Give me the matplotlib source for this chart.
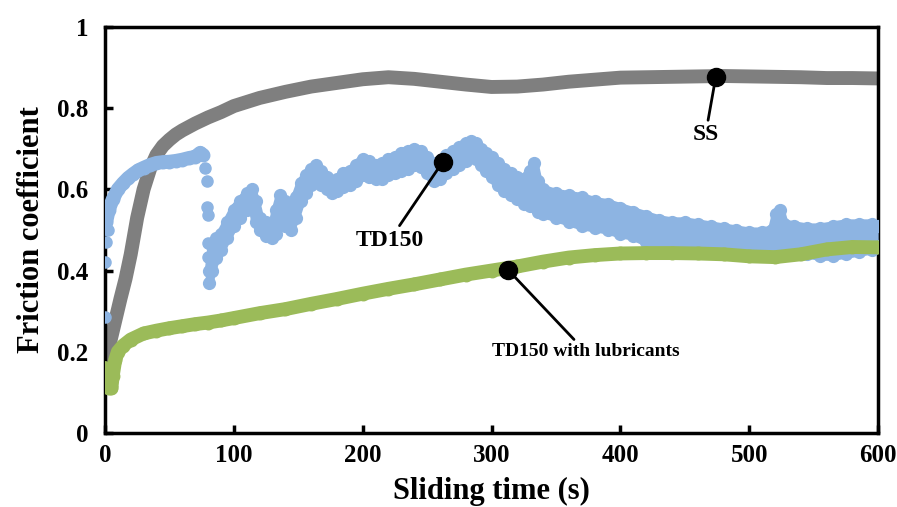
import matplotlib
matplotlib.use("Agg")
import matplotlib.pyplot as plt

plt.rcParams['font.family'] = ['Liberation Serif', 'DejaVu Serif']
plt.rcParams['font.weight'] = 'bold'

# SS (grey)
gray_t = [0, 3, 6, 9, 12, 16, 20, 25, 30, 35, 40, 45, 50, 55, 60, 70, 80, 90, 100, 120,
          140, 160, 180, 200, 220, 240, 260, 280, 300, 320, 340, 360, 380, 400, 420,
          440, 460, 480, 500, 520, 540, 560, 580, 600]
gray_v = [0.17, 0.21, 0.25, 0.29, 0.33, 0.38, 0.44, 0.53, 0.60, 0.65, 0.685, 0.707,
          0.722, 0.735, 0.745, 0.762, 0.777, 0.79, 0.805, 0.825, 0.84, 0.853, 0.862,
          0.871, 0.876, 0.872, 0.865, 0.858, 0.852, 0.853, 0.858, 0.865, 0.87, 0.875,
          0.876, 0.877, 0.878, 0.879, 0.878, 0.877, 0.876, 0.874, 0.874, 0.873]

# TD150 (blue) - first part before the drop
blue1_t = [1, 3, 6, 10, 14, 18, 22, 26, 30, 35, 40, 45, 50, 55, 60, 65, 70, 74, 76]
blue1_v = [0.52, 0.55, 0.575, 0.60, 0.615, 0.628, 0.638, 0.647, 0.653, 0.66, 0.665,
           0.667, 0.668, 0.67, 0.673, 0.677, 0.68, 0.69, 0.685]
# isolated points at start and during the drop
blue_dot_t = [0, 0, 1, 2, 78, 79, 79, 80, 80, 80]
blue_dot_v = [0.286, 0.42, 0.47, 0.50, 0.653, 0.62, 0.557, 0.537, 0.468, 0.434]
# after the drop: upper / lower edge of the noisy band
blue2_t = [81, 83, 86, 90, 95, 100, 105, 110, 114, 117, 120, 125, 130, 133, 136, 140,
           144, 148, 152, 156, 160, 164, 168, 172, 176, 180, 185, 190, 195, 200, 205,
           210, 215, 220, 225, 230, 235, 240, 245, 250, 255, 260, 265, 270, 275, 280,
           284, 288, 292, 296, 300, 305, 310, 315, 320, 325, 330, 333, 336, 340, 350,
           360, 370, 380, 390, 400, 410, 420, 430, 440, 450, 460, 470, 480, 490, 500,
           510, 518, 521, 524, 527, 535, 545, 555, 565, 575, 585, 595, 600]
blue2_hi = [0.40, 0.46, 0.48, 0.49, 0.52, 0.55, 0.57, 0.59, 0.60, 0.57, 0.53, 0.52,
            0.51, 0.55, 0.585, 0.57, 0.54, 0.58, 0.615, 0.635, 0.65, 0.66, 0.645, 0.63,
            0.62, 0.625, 0.64, 0.645, 0.66, 0.675, 0.67, 0.66, 0.665, 0.675, 0.68, 0.69,
            0.695, 0.70, 0.695, 0.68, 0.665, 0.67, 0.685, 0.695, 0.705, 0.715, 0.72,
            0.715, 0.70, 0.69, 0.68, 0.665, 0.65, 0.64, 0.63, 0.625, 0.645, 0.665, 0.62,
            0.60, 0.59, 0.585, 0.58, 0.57, 0.565, 0.555, 0.545, 0.535, 0.525, 0.52, 0.52,
            0.515, 0.51, 0.505, 0.50, 0.495, 0.495, 0.50, 0.54, 0.55, 0.515, 0.51, 0.505,
            0.505, 0.51, 0.515, 0.515, 0.515, 0.51]
blue2_lo = [0.37, 0.40, 0.43, 0.45, 0.48, 0.51, 0.53, 0.55, 0.57, 0.52, 0.50, 0.485,
            0.48, 0.49, 0.52, 0.51, 0.50, 0.53, 0.57, 0.59, 0.61, 0.63, 0.61, 0.60,
            0.59, 0.595, 0.605, 0.61, 0.62, 0.635, 0.63, 0.625, 0.625, 0.635, 0.64,
            0.645, 0.65, 0.66, 0.655, 0.64, 0.62, 0.625, 0.64, 0.65, 0.66, 0.67, 0.68,
            0.675, 0.66, 0.645, 0.63, 0.61, 0.595, 0.585, 0.575, 0.565, 0.56, 0.56,
            0.545, 0.54, 0.53, 0.52, 0.51, 0.505, 0.50, 0.49, 0.485, 0.47, 0.46, 0.455,
            0.455, 0.455, 0.45, 0.445, 0.44, 0.44, 0.44, 0.44, 0.44, 0.445, 0.445, 0.44,
            0.44, 0.435, 0.435, 0.44, 0.445, 0.45, 0.46]

# TD150 with lubricants (green)
green_t = [0, 1, 2, 3, 4, 5, 6, 8, 10, 14, 20, 30, 40, 50, 60, 70, 80, 90, 100, 120,
           140, 160, 180, 200, 220, 240, 260, 280, 300, 320, 340, 360, 380, 400, 420,
           440, 460, 480, 500, 520, 540, 560, 580, 600]
green_v = [0.16, 0.12, 0.15, 0.11, 0.13, 0.11, 0.14, 0.18, 0.20, 0.215, 0.23, 0.245,
           0.252, 0.258, 0.263, 0.268, 0.272, 0.277, 0.283, 0.295, 0.305, 0.318, 0.33,
           0.343, 0.355, 0.366, 0.378, 0.39, 0.40, 0.41, 0.422, 0.432, 0.438, 0.442,
           0.443, 0.443, 0.442, 0.44, 0.435, 0.433, 0.44, 0.452, 0.458, 0.457]

labels = ['SS', 'TD150', 'TD150 with lubricants']
label_dot = [(474, 0.877), (262, 0.667), (313, 0.401)]
label_txt = [(466, 0.734), (221, 0.475), (373, 0.20)]
label_size = [17, 17, 14]

c_gray = '#7f7f7f'
c_blue = '#8db4e2'
c_green = '#9bbb59'

fig = plt.figure(figsize=(8.97, 5.07), dpi=100)
ax = fig.add_axes([0.117, 0.146, 0.862, 0.801])

ax.plot(gray_t, gray_v, '-', color=c_gray, lw=10, solid_capstyle='round',
        solid_joinstyle='round', zorder=2)

ax.plot(blue1_t, blue1_v, '-o', color=c_blue, lw=10, ms=9, solid_capstyle='round',
        solid_joinstyle='round', zorder=3)
ax.plot(blue_dot_t, blue_dot_v, 'o', color=c_blue, ms=8, zorder=3)
ax.fill_between(blue2_t, blue2_lo, blue2_hi, color=c_blue, lw=0, zorder=3)
for edge in (blue2_hi, blue2_lo):
    ax.plot(blue2_t, edge, '-o', color=c_blue, lw=6.5, ms=8.5, solid_joinstyle='round',
            solid_capstyle='round', zorder=3)

ax.plot(green_t, green_v, '-o', color=c_green, lw=10, ms=9, solid_capstyle='round',
        solid_joinstyle='round', zorder=4)

for name, dot, txt, fs in zip(labels, label_dot, label_txt, label_size):
    ax.annotate(name, xy=dot, xytext=txt, ha='center', va='center', fontsize=fs,
                fontweight='bold',
                arrowprops=dict(arrowstyle='-', color='black', lw=2, shrinkA=1, shrinkB=0),
                zorder=6)
    ax.plot(*dot, 'o', color='black', ms=13, zorder=7)

ax.set_xlim(0, 600)
ax.set_ylim(0, 1)
ax.set_xticks(range(0, 601, 100))
ax.set_yticks([0, 0.2, 0.4, 0.6, 0.8, 1])
ax.set_yticklabels(['0', '0.2', '0.4', '0.6', '0.8', '1'])
ax.tick_params(direction='in', length=6, width=2.5, labelsize=18)
ax.tick_params(axis='x', pad=8)
ax.tick_params(axis='y', pad=12)
for sp in ax.spines.values():
    sp.set_linewidth(2.5)

ax.set_xlabel('Sliding time (s)', fontsize=22, fontweight='bold', labelpad=7)
ax.set_ylabel('Friction coefficient', fontsize=22, fontweight='bold', labelpad=8)

fig.savefig('out.png', dpi=100)
